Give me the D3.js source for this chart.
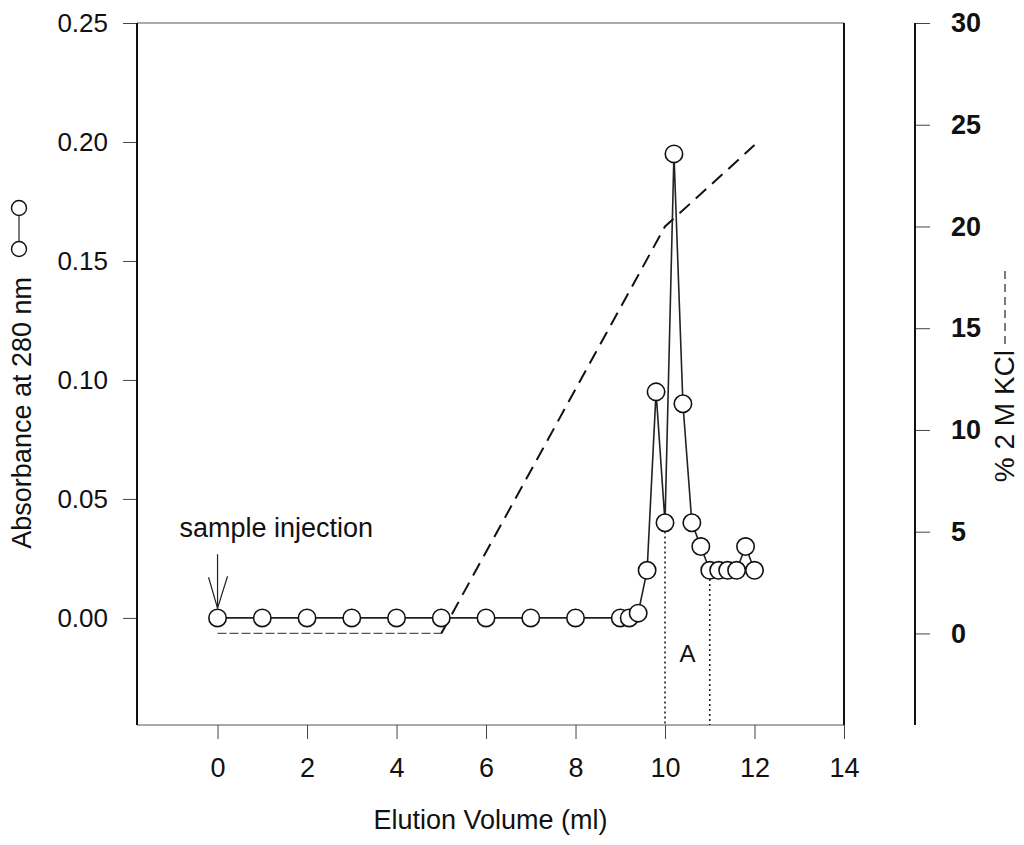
<!DOCTYPE html>
<html>
<head>
<meta charset="utf-8">
<script src="https://cdn.jsdelivr.net/npm/d3@7"></script>
<style>
  body { margin: 0; background: #fff; }
  text { font-family: "Liberation Sans", Arial, sans-serif; fill: #111; }
</style>
</head>
<body>
<svg id="chart" width="1024" height="845"></svg>
<script>
// elution profile, absorbance at 280 nm
const volume = [0, 1, 2, 3, 4, 5, 6, 7, 8, 9, 9.2, 9.4, 9.6, 9.8, 10, 10.2, 10.4, 10.6, 10.8, 11, 11.2, 11.4, 11.6, 11.8, 12];
const absorbance = [0, 0, 0, 0, 0, 0, 0, 0, 0, 0, 0, 0.002, 0.02, 0.095, 0.04, 0.195, 0.09, 0.04, 0.03, 0.02, 0.02, 0.02, 0.02, 0.03, 0.02];
// KCl gradient (% of 2 M KCl)
const gradVolume = [0, 5, 10, 12];
const gradKCl = [0, 0, 20, 24];
// pooled fraction A
const fractionA = [10, 11];
const xTicks = [0, 2, 4, 6, 8, 10, 12, 14];
const yTicks = [0, 0.05, 0.10, 0.15, 0.20, 0.25];
const y2Ticks = [0, 5, 10, 15, 20, 25, 30];

const svg = d3.select("#chart");
const plotL = 137, plotR = 844, plotT = 23, plotB = 725;
const axis2X = 915;

let x = d3.scaleLinear().domain([-1.8, 14]).range([plotL, plotR]);
let y = d3.scaleLinear().domain([-0.045, 0.25]).range([plotB, plotT]);
let y2 = d3.scaleLinear().domain([-4.5, 30]).range([plotB, plotT]);

const data = volume.map((v, i) => ({ v: v, a: absorbance[i] }));
const grad = gradVolume.map((v, i) => ({ v: v, k: gradKCl[i] }));

//#region axes
let xAxis = d3.axisBottom(x).tickValues(xTicks).tickSize(14).tickPadding(19).tickFormat(d3.format("d"));
let yAxis = d3.axisLeft(y).tickValues(yTicks).tickSize(14).tickPadding(15).tickFormat(d3.format(".2f"));
let y2Axis = d3.axisRight(y2).tickValues(y2Ticks).tickSize(15).tickPadding(21).tickFormat(d3.format("d"));

const gx = svg.append("g").attr("transform", `translate(0,${plotB})`).call(xAxis);
const gy = svg.append("g").attr("transform", `translate(${plotL},0)`).call(yAxis);
const gy2 = svg.append("g").attr("transform", `translate(${axis2X},0)`).call(y2Axis);

[gx, gy, gy2].forEach(g => {
    g.select(".domain").remove();
    g.selectAll(".tick line").attr("stroke", "#444").attr("stroke-width", 1);
    g.selectAll(".tick text").attr("fill", "#111");
});
gx.selectAll(".tick text").style("font-size", "27px");
gy.selectAll(".tick text").style("font-size", "26px");
gy2.selectAll(".tick text").style("font-size", "27px").style("font-weight", "bold");

// frame
svg.append("line").attr("x1", plotL).attr("x2", plotR).attr("y1", plotT).attr("y2", plotT)
    .attr("stroke", "#555").attr("stroke-width", 1.2);
svg.append("line").attr("x1", plotL).attr("x2", plotR).attr("y1", plotB).attr("y2", plotB)
    .attr("stroke", "#555").attr("stroke-width", 1.2);
svg.append("line").attr("x1", plotL).attr("x2", plotL).attr("y1", plotT).attr("y2", plotB)
    .attr("stroke", "#111").attr("stroke-width", 2);
svg.append("line").attr("x1", plotR).attr("x2", plotR).attr("y1", plotT).attr("y2", plotB)
    .attr("stroke", "#111").attr("stroke-width", 2);
svg.append("line").attr("x1", axis2X).attr("x2", axis2X).attr("y1", plotT).attr("y2", plotB)
    .attr("stroke", "#111").attr("stroke-width", 2);
//#endregion

//#region gradient
const gradLine = d3.line().x(d => x(d.v)).y(d => y2(d.k));
svg.append("path").datum(grad.slice(0, 2))
    .attr("d", gradLine).attr("fill", "none")
    .attr("stroke", "#555").attr("stroke-width", 1.2).attr("stroke-dasharray", "9,3");
svg.append("path").datum(grad.slice(1))
    .attr("d", gradLine).attr("fill", "none")
    .attr("stroke", "#111").attr("stroke-width", 2).attr("stroke-dasharray", "14,8");
//#endregion

//#region fraction A
const r = 8.7;
fractionA.forEach(v => {
    const d = data.find(p => p.v === v);
    svg.append("line")
        .attr("x1", x(v)).attr("x2", x(v))
        .attr("y1", y(d.a) + r).attr("y2", plotB)
        .attr("stroke", "#222").attr("stroke-width", 1.6).attr("stroke-dasharray", "2,3");
});
svg.append("text").attr("x", x(d3.mean(fractionA))).attr("y", y(-0.015))
    .attr("text-anchor", "middle").attr("dy", "0.35em")
    .style("font-size", "24px").text("A");
//#endregion

//#region absorbance
svg.append("path").datum(data)
    .attr("d", d3.line().x(d => x(d.v)).y(d => y(d.a)))
    .attr("fill", "none").attr("stroke", "#222").attr("stroke-width", 1.6);
svg.selectAll("circle.pt").data(data).join("circle")
    .attr("class", "pt")
    .attr("cx", d => x(d.v)).attr("cy", d => y(d.a)).attr("r", r)
    .attr("fill", "#fff").attr("stroke", "#111").attr("stroke-width", 1.6);
//#endregion

//#region sample injection
const tipY = y(0) - r - 1;
svg.append("line").attr("x1", x(0)).attr("x2", x(0)).attr("y1", tipY - 54).attr("y2", tipY)
    .attr("stroke", "#222").attr("stroke-width", 1.2);
svg.append("path")
    .attr("d", `M${x(0) - 9},${tipY - 31}L${x(0)},${tipY}L${x(0) + 10},${tipY - 32}`)
    .attr("fill", "none").attr("stroke", "#222").attr("stroke-width", 1.2);
svg.append("text").attr("x", x(-0.85)).attr("y", y(0.034))
    .style("font-size", "27px").text("sample injection");
//#endregion

//#region titles
svg.append("text").attr("x", (plotL + plotR) / 2).attr("y", 829)
    .attr("text-anchor", "middle").style("font-size", "27px").text("Elution Volume (ml)");

svg.append("text").attr("transform", "translate(31,277) rotate(-90)")
    .attr("text-anchor", "end").style("font-size", "27px").text("Absorbance at 280 nm");
// legend symbol for absorbance
svg.append("line").attr("x1", 19).attr("x2", 19).attr("y1", 208).attr("y2", 249)
    .attr("stroke", "#222").attr("stroke-width", 1.2);
svg.selectAll("circle.leg").data([208, 249]).join("circle")
    .attr("class", "leg").attr("cx", 19).attr("cy", d => d).attr("r", 7.5)
    .attr("fill", "#fff").attr("stroke", "#111").attr("stroke-width", 1.4);

svg.append("text").attr("transform", "translate(1014,350) rotate(-90)")
    .attr("text-anchor", "end").style("font-size", "28px").text("% 2 M KCl");
// legend symbol for gradient
svg.append("line").attr("x1", 1005).attr("x2", 1005).attr("y1", 344).attr("y2", 270)
    .attr("stroke", "#222").attr("stroke-width", 1.2).attr("stroke-dasharray", "8,5");
//#endregion
</script>
</body>
</html>
